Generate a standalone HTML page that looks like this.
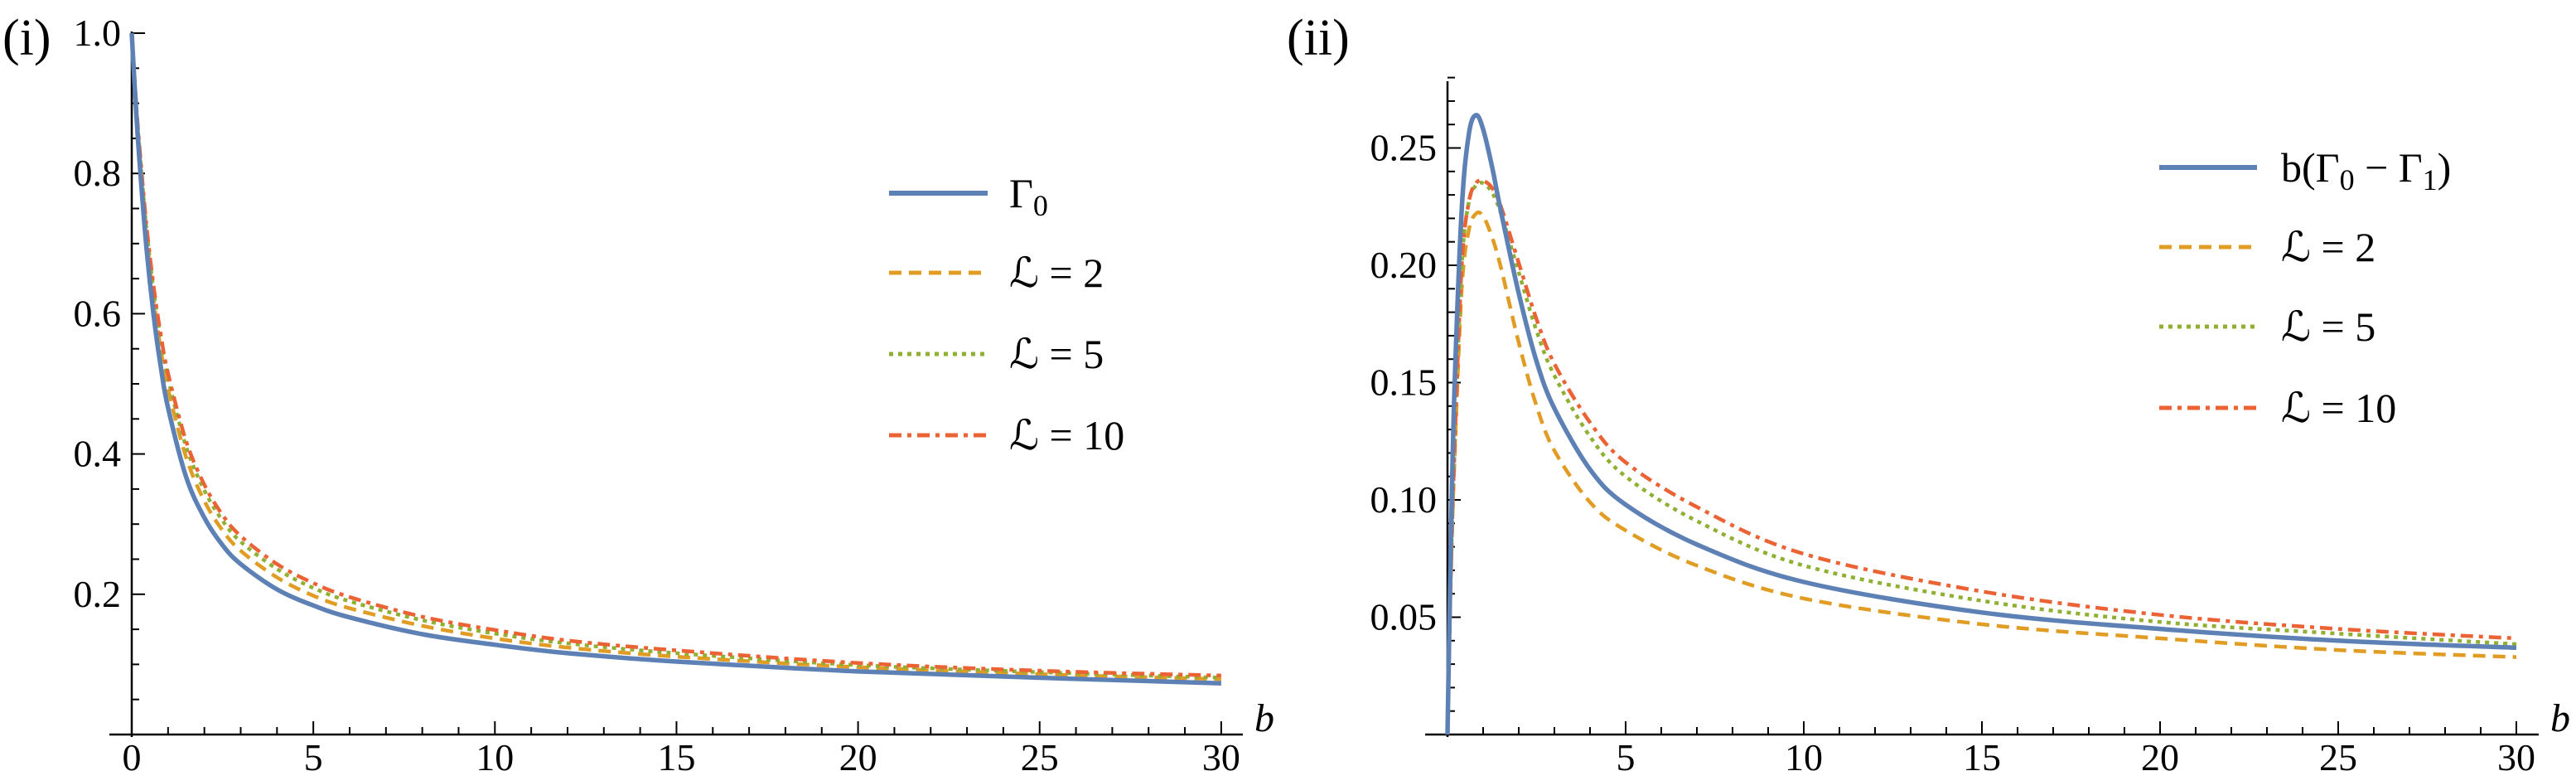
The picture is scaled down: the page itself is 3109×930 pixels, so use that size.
<!DOCTYPE html>
<html><head><meta charset="utf-8">
<style>
html,body{margin:0;padding:0;background:#fff;}
svg{display:block;}
text{font-family:"Liberation Serif","Times New Roman",Times,serif;}
</style></head>
<body>
<svg id="chart" width="3109" height="930" viewBox="0 0 3109 930" xmlns="http://www.w3.org/2000/svg" font-family="Liberation Serif, serif">
<text x="3" y="66" font-size="62">(i)</text>
<text x="1553" y="66" font-size="62">(ii)</text>
<g id="p1"></g>
<g id="p2"></g>
</svg>
<script>
// Panel (i) data
const b1 = [0,0.1,0.2,0.4,0.6,0.8,1,1.5,2,2.5,3,4,5,6,8,10,12,15,20,25,30];
const gamma0 = [1,0.907,0.827,0.697,0.599,0.524,0.466,0.367,0.309,0.270,0.243,0.207,0.184,0.167,0.143,0.128,0.116,0.104,0.090,0.081,0.073];
const p1L2 = [1,0.912,0.838,0.715,0.622,0.549,0.493,0.395,0.333,0.291,0.262,0.224,0.198,0.180,0.155,0.137,0.124,0.111,0.096,0.086,0.079];
const p1L5 = [1,0.915,0.843,0.724,0.634,0.563,0.508,0.410,0.348,0.305,0.275,0.236,0.209,0.190,0.163,0.144,0.130,0.116,0.099,0.089,0.081];
const p1L10 = [1,0.917,0.846,0.729,0.640,0.570,0.515,0.418,0.356,0.313,0.283,0.243,0.216,0.196,0.168,0.149,0.134,0.120,0.102,0.091,0.084];
const p1YTicks = ["0.2","0.4","0.6","0.8","1.0"];
const xTickLabels1 = ["0","5","10","15","20","25","30"];
// Panel (ii) data
const b2 = [0,0.1,0.2,0.4,0.6,0.8,1,1.25,1.5,2,2.5,3,4,5,7,10,15,20,25,30];
const bGamma = [0,0.086,0.149,0.224,0.256,0.264,0.258,0.242,0.223,0.188,0.159,0.139,0.113,0.098,0.081,0.065,0.052,0.045,0.040,0.037];
const p2L2 = [0,0.070,0.118,0.190,0.215,0.222,0.221,0.212,0.199,0.167,0.140,0.121,0.099,0.087,0.072,0.058,0.047,0.041,0.036,0.033];
const p2L5 = [0,0.072,0.122,0.200,0.227,0.234,0.235,0.231,0.222,0.197,0.172,0.153,0.127,0.110,0.091,0.072,0.057,0.048,0.043,0.0385];
const p2L10 = [0,0.072,0.122,0.200,0.227,0.235,0.236,0.233,0.225,0.201,0.177,0.158,0.133,0.116,0.097,0.077,0.061,0.051,0.045,0.041];
const p2YTicks = ["0.05","0.10","0.15","0.20","0.25"];
const xTickLabels2 = ["5","10","15","20","25","30"];

const NS = "http://www.w3.org/2000/svg";
const styles = {
  blue:{stroke:"#5e81b5",w:5.5,dash:""},
  orange:{stroke:"#e19c24",w:4.5,dash:"15 9"},
  green:{stroke:"#8fb032",w:4.5,dash:"5 6"},
  red:{stroke:"#eb6235",w:4.5,dash:"15 7 5 7"}
};
function mk(tag, attrs, parent){const e=document.createElementNS(NS,tag);for(const k in attrs)e.setAttribute(k,attrs[k]);parent.appendChild(e);return e;}
function pathD(xs,ys,sx,sy){
  const P=xs.map((x,i)=>[sx(x),sy(ys[i])]);
  let d="M"+P[0][0].toFixed(1)+","+P[0][1].toFixed(1);
  for(let i=0;i<P.length-1;i++){
    const p0=P[Math.max(0,i-1)],p1=P[i],p2=P[i+1],p3=P[Math.min(P.length-1,i+2)];
    const c1=[p1[0]+(p2[0]-p0[0])/6,p1[1]+(p2[1]-p0[1])/6];
    const c2=[p2[0]-(p3[0]-p1[0])/6,p2[1]-(p3[1]-p1[1])/6];
    d+=" C"+c1[0].toFixed(1)+","+c1[1].toFixed(1)+" "+c2[0].toFixed(1)+","+c2[1].toFixed(1)+" "+p2[0].toFixed(1)+","+p2[1].toFixed(1);
  }
  return d;
}
function panel(g,cfg){
  const sx=v=>cfg.x0+v*cfg.kx, sy=v=>cfg.y0-v*cfg.ky;
  const ax=mk("g",{},g);
  
  
  mk("line",{x1:cfg.xStart,y1:cfg.y0,x2:cfg.xEnd,y2:cfg.y0,stroke:"#000","stroke-width":2.5},ax);
  mk("line",{x1:cfg.x0,y1:cfg.y0+3,x2:cfg.x0,y2:cfg.yTop,stroke:"#000","stroke-width":2.5},ax);
  for(let i=1;i<=30;i++){
    const x=sx(i), L=(i%5===0)?16:9;
    mk("line",{x1:x,y1:cfg.y0,x2:x,y2:cfg.y0-L,stroke:"#000","stroke-width":2},ax);
  }
  cfg.xLabels.forEach(t=>{
    const el=mk("text",{x:sx(+t),y:929,"font-size":46,"text-anchor":"middle"},ax);
    el.textContent=t;
    
    
  });
  const bl=mk("text",{x:cfg.xEnd+14,y:cfg.y0-4,"font-size":48,"font-style":"italic"},ax);
  bl.textContent="b";
  
  
  for(let v=cfg.minor;v<=cfg.yMax+1e-9;v+=cfg.minor){
    const r=Math.round(v/cfg.minor);
    const major=(r%cfg.majorEvery===0);
    mk("line",{x1:cfg.x0,y1:sy(v),x2:cfg.x0+(major?16:9),y2:sy(v),stroke:"#000","stroke-width":2},ax);
  }
  cfg.yLabels.forEach(t=>{
    const el=mk("text",{x:cfg.x0-13,y:sy(+t)+15,"font-size":46,"text-anchor":"end"},ax);
    el.textContent=t;
    
    
  });
  cfg.series.forEach(s=>{
    const st=styles[s.style];
    const p=mk("path",{d:pathD(cfg.xs,s.ys,sx,sy),fill:"none",stroke:st.stroke,"stroke-width":st.w,"stroke-dasharray":st.dash,"stroke-linejoin":"round"},g);
    
    
  });
  const lg=mk("g",{},g);
  
  
  cfg.legend.forEach((e,i)=>{
    const y=cfg.legY[i], st=styles[e.style];
    const row=mk("g",{},lg);
    
    
    mk("line",{x1:cfg.legX1,y1:y,x2:cfg.legX2,y2:y,stroke:st.stroke,"stroke-width":st.w+0.5,"stroke-dasharray":st.dash},row);
    const t=mk("text",{x:cfg.legT,y:y+17,"font-size":50},row);
    t.innerHTML=e.label;
  });
}
panel(document.getElementById("p1"),{
  x0:159,kx:43.83,y0:886,ky:846,xStart:132,xEnd:1500,yTop:38,yMax:1.0,minor:0.05,majorEvery:4,
  xs:b1,xLabels:xTickLabels1,yLabels:p1YTicks,
  series:[{ys:p1L2,style:"orange",name:"series-l2"},{ys:p1L5,style:"green",name:"series-l5"},{ys:p1L10,style:"red",name:"series-l10"},{ys:gamma0,style:"blue",name:"series-gamma0"}],
  legX1:1073,legX2:1192,legT:1218,legY:[233,329,427,525],
  legend:[{style:"blue",label:'Γ<tspan font-size="36" dy="10">0</tspan>'},{style:"orange",label:"ℒ = 2"},{style:"green",label:"ℒ = 5"},{style:"red",label:"ℒ = 10"}]
});
panel(document.getElementById("p2"),{
  x0:1747,kx:43.0,y0:886,ky:2830,xStart:1720,xEnd:3064,yTop:98,yMax:0.28,minor:0.01,majorEvery:5,
  xs:b2,xLabels:xTickLabels2,yLabels:p2YTicks,
  series:[{ys:p2L2,style:"orange",name:"series-l2"},{ys:p2L5,style:"green",name:"series-l5"},{ys:p2L10,style:"red",name:"series-l10"},{ys:bGamma,style:"blue",name:"series-b-gamma-diff"}],
  legX1:2606,legX2:2724,legT:2753,legY:[202,298,394,492],
  legend:[{style:"blue",label:'b(Γ<tspan font-size="36" dy="10">0</tspan><tspan dy="-10"> − Γ</tspan><tspan font-size="36" dy="10">1</tspan><tspan dy="-10">)</tspan>'},{style:"orange",label:"ℒ = 2"},{style:"green",label:"ℒ = 5"},{style:"red",label:"ℒ = 10"}]
});
</script>
</body></html>
